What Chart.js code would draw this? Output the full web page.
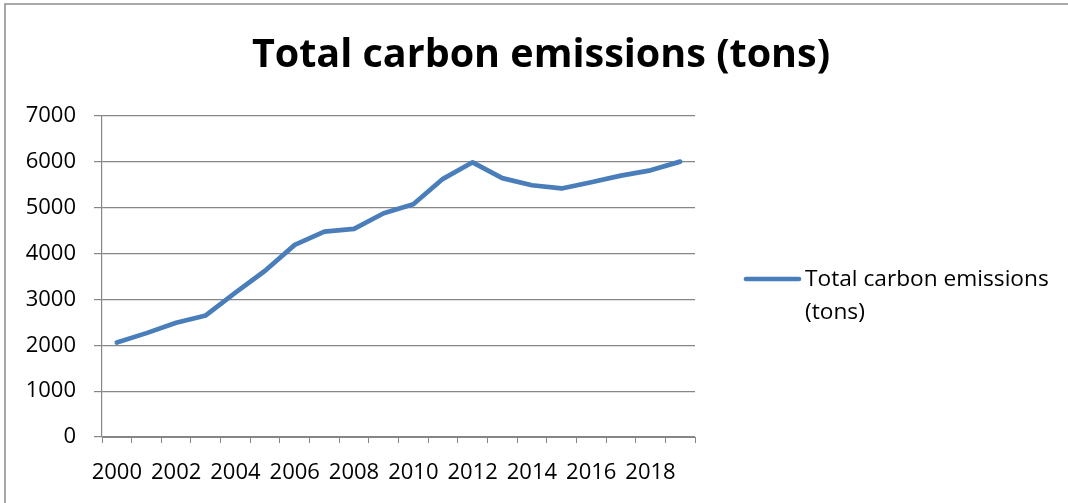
<!DOCTYPE html>
<html>
<head>
<meta charset="utf-8">
<title>Total carbon emissions (tons)</title>
<script src="https://cdn.jsdelivr.net/npm/chart.js@4"></script>
<style>
  body { margin: 0; background: #fff; }
  canvas { display: block; }
</style>
</head>
<body>
<canvas id="chart" width="1068" height="503"></canvas>
<script>
const chartTitle = "Total carbon emissions (tons)";
const seriesName = "Total carbon emissions (tons)";
const legendLines = ["Total carbon emissions", "(tons)"];

const years = [
  "2000", "2001", "2002", "2003", "2004", "2005", "2006", "2007", "2008", "2009",
  "2010", "2011", "2012", "2013", "2014", "2015", "2016", "2017", "2018", "2019",
];
const emissions = [
  2060, 2265, 2490, 2650, 3150, 3625, 4190, 4480, 4540, 4880,
  5075, 5630, 5990, 5645, 5490, 5420, 5555, 5700, 5815, 6005,
];
const yTicks = [0, 1000, 2000, 3000, 4000, 5000, 6000, 7000];

const lineColor = "#4a7ebb";
const gridColor = "#868686";
const fontFamily = "'Open Sans', Lato, sans-serif";

// Excel-ish frame, title and a legend that wraps onto two lines
const excelDecor = {
  id: "excelDecor",
  beforeDraw(chart) {
    const ctx = chart.ctx;
    ctx.save();
    ctx.fillStyle = "#fff";
    ctx.fillRect(0, 0, chart.width, chart.height);
    ctx.strokeStyle = "#8c8c8c";
    ctx.lineWidth = 1.5;
    ctx.beginPath();
    ctx.moveTo(5, chart.height + 5);
    ctx.lineTo(5, 4);
    ctx.lineTo(chart.width + 5, 4);
    ctx.stroke();
    ctx.restore();
  },
  afterDraw(chart) {
    const ctx = chart.ctx;
    ctx.save();
    ctx.fillStyle = "#000";

    ctx.font = "bold 39.5px " + fontFamily;
    ctx.textAlign = "center";
    ctx.textBaseline = "alphabetic";
    ctx.fillText(chartTitle, 541, 67);

    const ds = chart.data.datasets[0];
    ctx.strokeStyle = ds.borderColor;
    ctx.lineWidth = ds.borderWidth;
    ctx.lineCap = "round";
    ctx.beginPath();
    ctx.moveTo(746, 279);
    ctx.lineTo(799, 279);
    ctx.stroke();

    ctx.font = "22.7px " + fontFamily;
    ctx.textAlign = "left";
    ctx.textBaseline = "middle";
    legendLines.forEach((t, i) => ctx.fillText(t, 805, 280 + i * 33));
    ctx.restore();
  },
};

const ctx = document.getElementById("chart").getContext("2d");

new Chart(ctx, {
  type: "line",
  data: {
    labels: years,
    datasets: [
      {
        label: seriesName,
        data: emissions,
        borderColor: lineColor,
        backgroundColor: lineColor,
        borderWidth: 4.7,
        borderCapStyle: "round",
        borderJoinStyle: "round",
        pointRadius: 0,
        tension: 0,
      },
    ],
  },
  options: {
    responsive: false,
    animation: false,
    layout: {
      padding: { top: 116, right: 373, bottom: 0, left: 0 },
    },
    plugins: {
      legend: { display: false },
      title: { display: false },
      tooltip: { enabled: false },
    },
    scales: {
      x: {
        offset: true,
        afterFit: (scale) => { scale.height = 66; },
        grid: {
          offset: true,
          drawOnChartArea: false,
          drawTicks: true,
          tickLength: 6,
          color: gridColor,
        },
        border: { color: gridColor, width: 1 },
        ticks: {
          autoSkip: false,
          maxRotation: 0,
          padding: 17,
          color: "#000",
          font: { family: fontFamily, size: 22 },
          callback: (v, i) => (i % 2 === 0 ? years[i] : ""),
        },
      },
      y: {
        min: 0,
        max: 7000,
        afterFit: (scale) => { scale.width = 102; },
        afterBuildTicks: (scale) => {
          scale.ticks = yTicks.map((v) => ({ value: v }));
        },
        grid: {
          drawTicks: true,
          tickLength: 8,
          color: gridColor,
          lineWidth: 1.2,
        },
        border: { color: gridColor, width: 1.2 },
        ticks: {
          padding: 18,
          color: "#000",
          font: { family: fontFamily, size: 22 },
          callback: (v) => String(v),
        },
      },
    },
  },
  plugins: [excelDecor],
});
</script>
</body>
</html>
